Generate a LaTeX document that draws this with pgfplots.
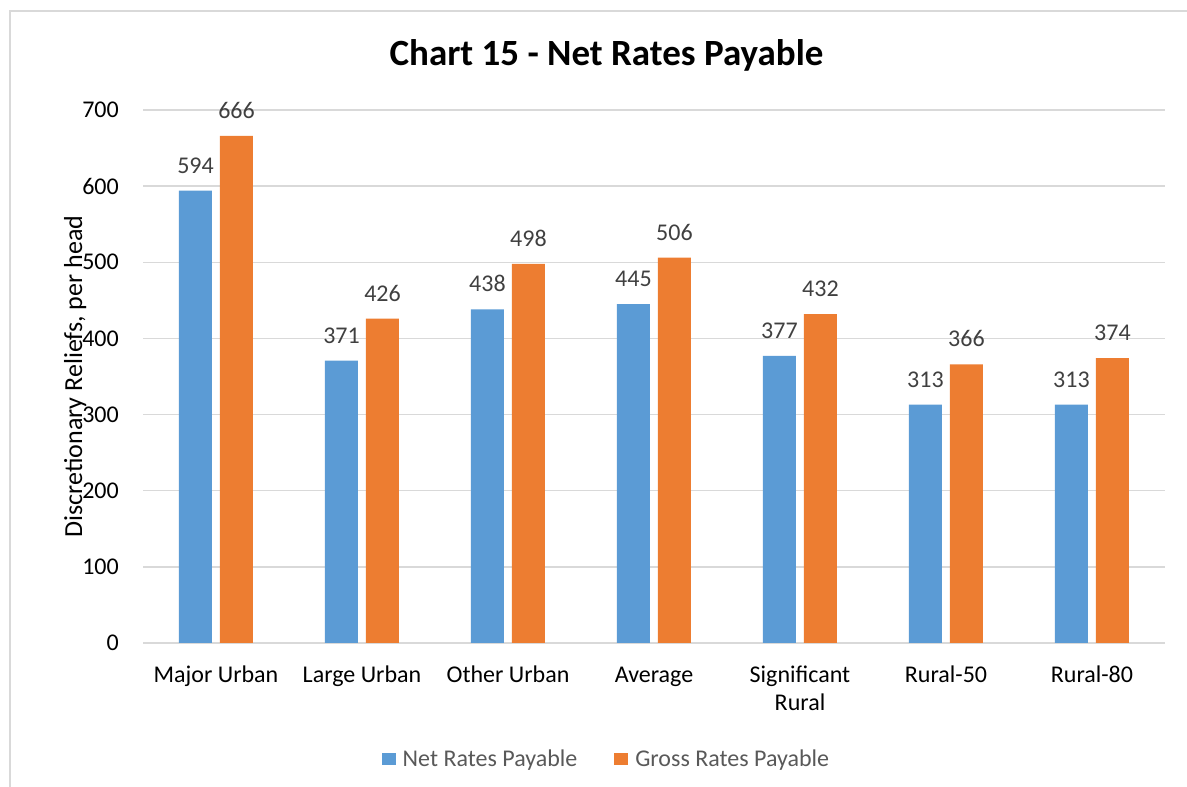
\documentclass[border=0pt]{standalone}
\usepackage{pgfplots}
\pgfplotsset{compat=1.18}
\usepackage{fontspec}
\setmainfont{Carlito}
\definecolor{cblue}{HTML}{5B9BD5}
\definecolor{corange}{HTML}{ED7D31}
\definecolor{cgrid}{HTML}{D9D9D9}
\definecolor{clabel}{HTML}{404040}
\definecolor{clegend}{HTML}{595959}
\begin{document}
\begin{tikzpicture}[x=1pt,y=1pt]
\useasboundingbox (0,0) rectangle (1187,787);
\draw[cgrid, line width=1.5pt] (10,0) -- (10,776) -- (1187,776);
\begin{axis}[
  at={(143pt,144pt)}, anchor=south west,
  width=1022pt, height=533pt, scale only axis,
  ybar=8pt, bar width=33pt,
  xmin=-0.5, xmax=6.5, ymin=0, ymax=700,
  xtick=data,
  xticklabels={Major Urban, Large Urban, Other Urban, Average, {Significant\strut\\Rural}, Rural-50, Rural-80},
  ytick={0,100,...,700},
  /pgf/number format/assume math mode=true,
  major tick length=0pt,
  axis line style={draw=none},
  ymajorgrids, major grid style={cgrid, line width=1.3pt},
  tick label style={font=\fontsize{24}{28}\selectfont, text=black},
  yticklabel style={anchor=east, inner sep=0pt, xshift=-24pt},
  xticklabel style={anchor=north, inner sep=0pt, yshift=-20pt, align=center, execute at begin node=\strut},
  every axis y label/.style={at={(rel axis cs:0,0.5)}, anchor=base, rotate=90, yshift=61pt},
  ylabel={Discretionary Reliefs, per head},
  label style={font=\fontsize{26}{30}\selectfont},
  every axis title/.style={at={(rel axis cs:0.4535,1)}, anchor=base, yshift=45pt},
  title={Chart 15 - Net Rates Payable},
  title style={font=\fontsize{37}{44}\selectfont\bfseries},
  nodes near coords,
  every node near coord/.append style={anchor=base, inner sep=0pt, yshift=17.5pt, font=\fontsize{24}{28}\selectfont, text=clabel},
  legend columns=2,
  legend style={at={(rel axis cs:0.4525,-0.2175)}, anchor=center, draw=none, fill=none,
    inner sep=0pt, font=\fontsize{24}{28}\selectfont, text=clegend,
    nodes={inner sep=0pt},
    /tikz/every odd column/.append style={column sep=7pt},
    /tikz/every even column/.append style={column sep=37pt}},
  legend image code/.code={\fill[#1,draw=none] (0pt,-6pt) rectangle (14pt,6.3pt);},
]
\addplot[fill=cblue, draw=none] coordinates {(0,594) (1,371) (2,438) (3,445) (4,377) (5,313) (6,313)};
\addplot[fill=corange, draw=none] coordinates {(0,666) (1,426) (2,498) (3,506) (4,432) (5,366) (6,374)};
\legend{Net Rates Payable, Gross Rates Payable}
\end{axis}
\end{tikzpicture}
\end{document}
